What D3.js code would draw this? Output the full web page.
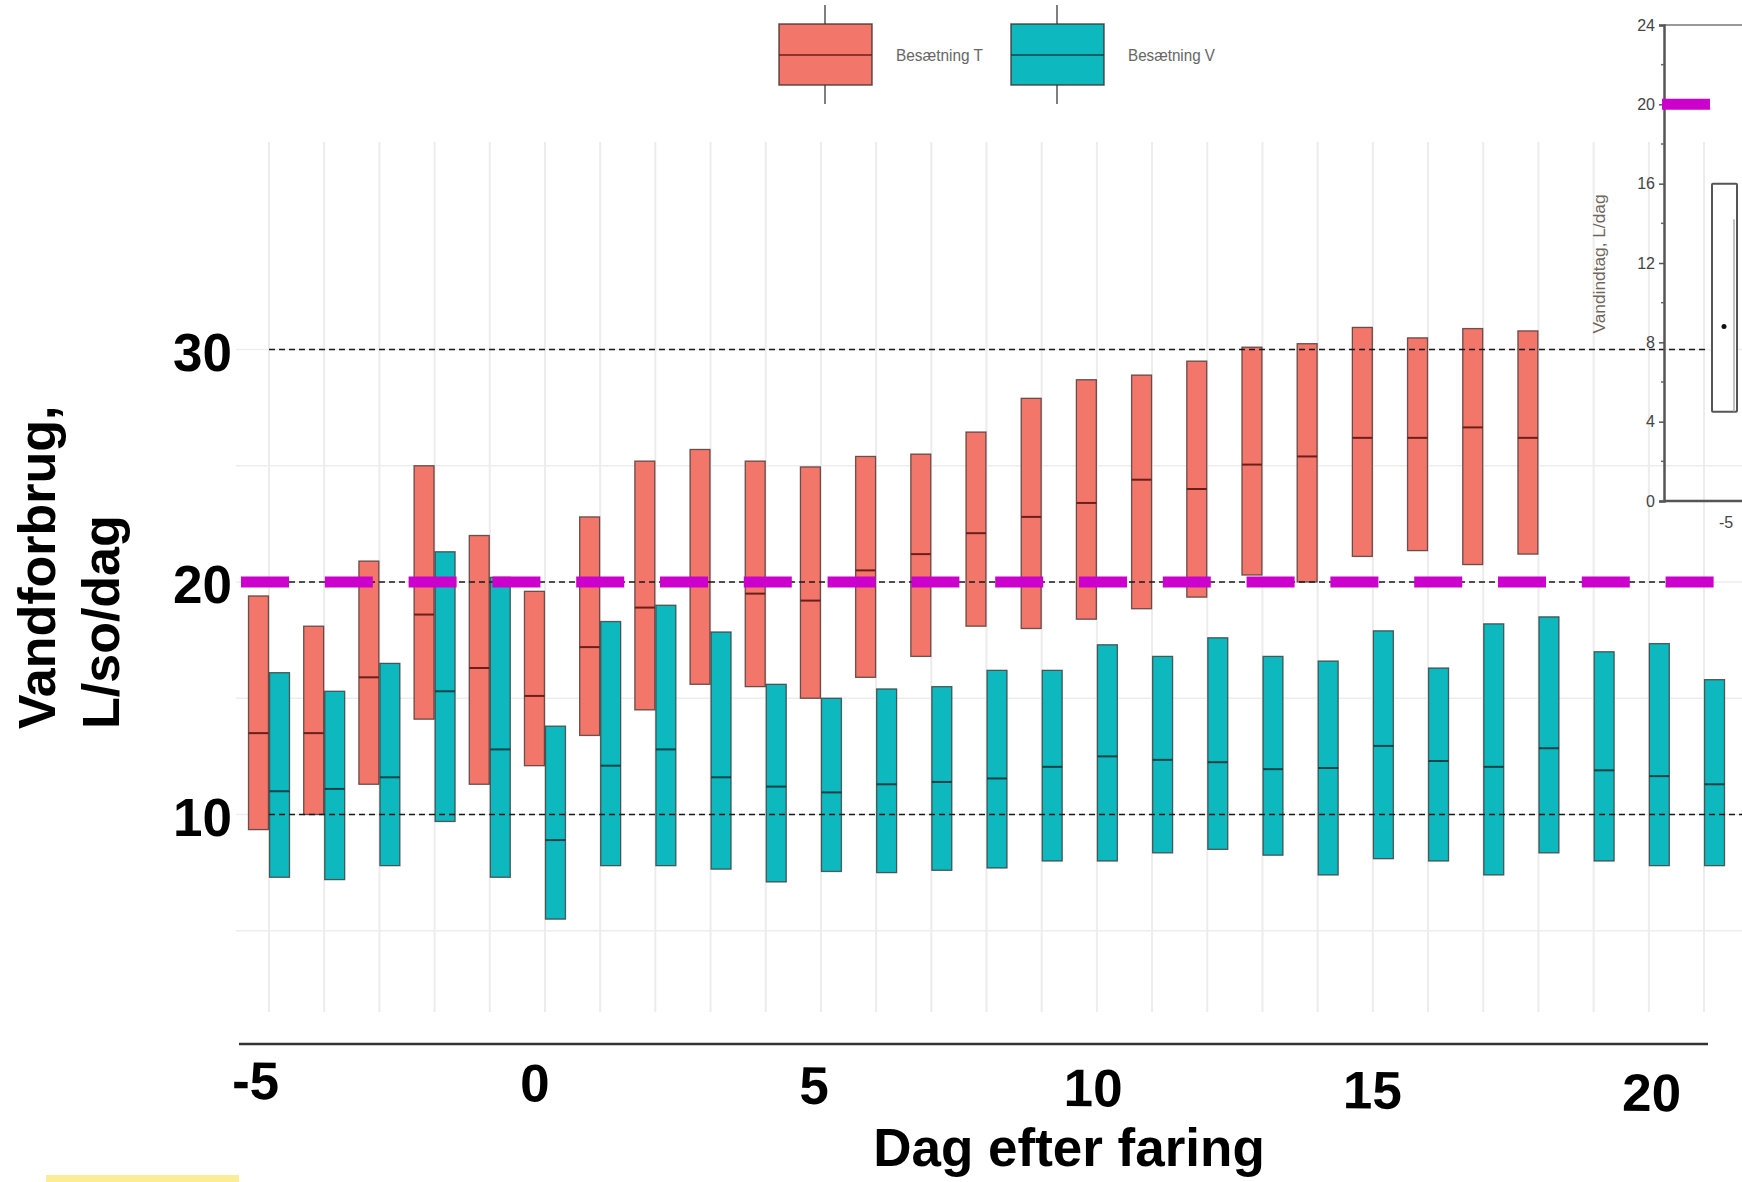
<!DOCTYPE html>
<html>
<head>
<meta charset="utf-8">
<script src="https://cdn.jsdelivr.net/npm/d3@7"></script>
<style>
  html, body { margin: 0; padding: 0; background: #ffffff; }
  svg { display: block; }
  text { font-family: "Liberation Sans", Arial, Helvetica, sans-serif; }
</style>
</head>
<body>
<svg id="chart" width="1742" height="1182"></svg>
<script>
// ---------------- DATA ----------------
const days = [-5,-4,-3,-2,-1,0,1,2,3,4,5,6,7,8,9,10,11,12,13,14,15,16,17,18,19,20,21];
const seriesNames = ["T", "V"];
const legendLabels = ["Besætning T", "Besætning V"];

// Besætning T (days -5 .. 18): box low (Q1), median, high (Q3)
const tDays = [-5,-4,-3,-2,-1,0,1,2,3,4,5,6,7,8,9,10,11,12,13,14,15,16,17,18];
const tLow  = [9.35,10.0,11.3,14.1,11.3,12.1,13.4,14.5,15.6,15.5,15.0,15.9,16.8,18.1,18.0,18.4,18.85,19.35,20.3,20.0,21.1,21.35,20.75,21.2];
const tMed  = [13.5,13.5,15.9,18.6,16.3,15.1,17.2,18.9,20.0,19.5,19.2,20.5,21.2,22.1,22.8,23.4,24.4,24.0,25.05,25.4,26.2,26.2,26.65,26.2];
const tHigh = [19.4,18.1,20.9,25.0,22.0,19.6,22.8,25.2,25.7,25.2,24.95,25.4,25.5,26.45,27.9,28.7,28.9,29.5,30.1,30.25,30.95,30.5,30.9,30.8];

// Besætning V (days -5 .. 21)
const vDays = days;
const vLow  = [7.3,7.2,7.8,9.7,7.3,5.5,7.8,7.8,7.65,7.1,7.55,7.5,7.6,7.7,8.0,8.0,8.35,8.5,8.25,7.4,8.1,8.0,7.4,8.35,8.0,7.8,7.8];
const vMed  = [11.0,11.1,11.6,15.3,12.8,8.9,12.1,12.8,11.6,11.2,10.95,11.3,11.4,11.55,12.05,12.5,12.35,12.25,11.95,12.0,12.95,12.3,12.05,12.85,11.9,11.65,11.3];
const vHigh = [16.1,15.3,16.5,21.3,20.2,13.8,18.3,19.0,17.85,15.6,15.0,15.4,15.5,16.2,16.2,17.3,16.8,17.6,16.8,16.6,17.9,16.3,18.2,18.5,17.0,17.35,15.8];

const yTicks = [10, 20, 30];
const gridValues = [5, 10, 15, 20, 25, 30];
const refLines = [30, 20, 10];
const targetValue = 20;
const xTickLabels = [-5, 0, 5, 10, 15, 20];
const yTitleLines = ["Vandforbrug,", "L/so/dag"];
const xTitle = "Dag efter faring";

// inset
const insetTicks = [0, 4, 8, 12, 16, 20, 24];
const insetMinor = [2, 6, 10, 14, 18, 22];
const insetBox = { low: 4.5, high: 16, point: 8.8, inner: 14.2 };
const insetXLabel = "-5";
const insetTitle = "Vandindtag, L/dag";
const insetTarget = 20;

// ---------------- SCALES ----------------
const svg = d3.select("#chart");
const x = d3.scaleLinear().domain([-5, 21]).range([269, 1704]);
const y = d3.scaleLinear().domain([10, 30]).range([814.5, 349.5]);
const dodge = d3.scaleBand().domain(seriesNames).range([-20.5, 20.5]).paddingInner(0.05);
const colors = { T: "#F3766B", V: "#0DB9BF" };

const tData = tDays.map((d, i) => ({ s: "T", day: d, lo: tLow[i], med: tMed[i], hi: tHigh[i] }));
const vData = vDays.map((d, i) => ({ s: "V", day: d, lo: vLow[i], med: vMed[i], hi: vHigh[i] }));
const allBoxes = tData.concat(vData);

// ---------------- GRID ----------------
const grid = svg.append("g");
grid.selectAll("line.v").data(days).join("line")
  .attr("x1", d => x(d)).attr("x2", d => x(d))
  .attr("y1", 142).attr("y2", 1012)
  .attr("stroke", "#ececec").attr("stroke-width", 2);
grid.selectAll("line.h").data(gridValues).join("line")
  .attr("x1", 236).attr("x2", 1742)
  .attr("y1", d => y(d)).attr("y2", d => y(d))
  .attr("stroke", "#ededed").attr("stroke-width", 1.5);

// ---------------- BOXES ----------------
const boxes = svg.append("g");
const bw = dodge.bandwidth();
boxes.selectAll("rect").data(allBoxes).join("rect")
  .attr("x", d => x(d.day) + dodge(d.s))
  .attr("width", bw)
  .attr("y", d => y(d.hi))
  .attr("height", d => y(d.lo) - y(d.hi))
  .attr("fill", d => colors[d.s])
  .attr("stroke", "#3a2c2b").attr("stroke-opacity", 0.75).attr("stroke-width", 1.3);
boxes.selectAll("line").data(allBoxes).join("line")
  .attr("x1", d => x(d.day) + dodge(d.s))
  .attr("x2", d => x(d.day) + dodge(d.s) + bw)
  .attr("y1", d => y(d.med)).attr("y2", d => y(d.med))
  .attr("stroke", d => d.s === "T" ? "#6b1f1a" : "#0b4448")
  .attr("stroke-width", 2);

// ---------------- REFERENCE DASHED LINES ----------------
const refEnd = { 30: 1705, 20: 1690, 10: 1742 };
svg.append("g").selectAll("line").data(refLines).join("line")
  .attr("x1", x(-5)).attr("x2", d => refEnd[d])
  .attr("y1", d => y(d)).attr("y2", d => y(d))
  .attr("stroke", "#1a1a1a").attr("stroke-width", 1.5)
  .attr("stroke-dasharray", "6,4");

// magenta target dashes
svg.append("line")
  .attr("x1", 241).attr("x2", 1714)
  .attr("y1", y(targetValue)).attr("y2", y(targetValue))
  .attr("stroke", "#cc00cc").attr("stroke-width", 11)
  .attr("stroke-dasharray", "48,35.8");

// ---------------- Y AXIS LABELS ----------------
svg.append("g").selectAll("text").data(yTicks).join("text")
  .attr("x", 232).attr("y", d => y(d) + 21)
  .attr("text-anchor", "end")
  .attr("font-size", 53).attr("font-weight", "bold").attr("fill", "#000")
  .text(d => d);

const yTitle = svg.append("text")
  .attr("transform", "translate(55,729) rotate(-90)")
  .attr("text-anchor", "start")
  .attr("font-size", 52).attr("font-weight", "bold").attr("fill", "#000");
yTitle.selectAll("tspan").data(yTitleLines).join("tspan")
  .attr("x", 0).attr("dy", (d, i) => i === 0 ? 0 : 64)
  .text(d => d);

// ---------------- X AXIS ----------------
svg.append("line")
  .attr("x1", 239).attr("x2", 1708).attr("y1", 1044).attr("y2", 1044)
  .attr("stroke", "#333").attr("stroke-width", 2.5);

const xLab = d3.scaleLinear().domain([-5, 20]).range([255, 1651]);
const xAxisG = svg.append("g")
  .attr("transform", "translate(0,1099) rotate(0.49,257,0)");
xAxisG.call(d3.axisBottom(xLab).tickValues(xTickLabels).tickSize(0).tickPadding(0).tickFormat(d3.format("d")));
xAxisG.select(".domain").remove();
xAxisG.selectAll(".tick text")
  .attr("y", 0).attr("dy", 0)
  .attr("font-family", "'Liberation Sans', Arial, sans-serif")
  .attr("font-size", 53).attr("font-weight", "bold").attr("fill", "#000")
  .text(d => d < 0 ? "-" + Math.abs(d) : d);

svg.append("text")
  .attr("x", 1069).attr("y", 1166)
  .attr("text-anchor", "middle")
  .attr("font-size", 53).attr("font-weight", "bold").attr("fill", "#000")
  .text(xTitle);

// ---------------- LEGEND ----------------
const legend = svg.append("g");
const legX = d3.scalePoint().domain(seriesNames).range([779, 1011]);
seriesNames.forEach((s, i) => {
  const g = legend.append("g").attr("transform", `translate(${legX(s)},0)`);
  g.append("line").attr("x1", 46).attr("x2", 46).attr("y1", 5).attr("y2", 104)
    .attr("stroke", "#555").attr("stroke-width", 1.5);
  g.append("rect").attr("x", 0).attr("y", 24).attr("width", 93).attr("height", 61)
    .attr("fill", colors[s]).attr("stroke", "#3a2c2b").attr("stroke-opacity", 0.8).attr("stroke-width", 1.5);
  g.append("line").attr("x1", 0).attr("x2", 93).attr("y1", 55).attr("y2", 55)
    .attr("stroke", s === "T" ? "#6b1f1a" : "#0b4448").attr("stroke-width", 1.5);
  g.append("text").attr("x", 117).attr("y", 61)
    .attr("font-size", 17).attr("fill", "#666")
    .attr("textLength", 87).attr("lengthAdjust", "spacingAndGlyphs")
    .text(legendLabels[i]);
});

// ---------------- INSET ----------------
const yIn = d3.scaleLinear().domain([0, 24]).range([501, 25]);
const inset = svg.append("g");
inset.append("line").attr("x1", 1664).attr("x2", 1742).attr("y1", yIn(24)).attr("y2", yIn(24))
  .attr("stroke", "#777").attr("stroke-width", 1.5);
inset.append("line").attr("x1", 1664).attr("x2", 1742).attr("y1", yIn(0)).attr("y2", yIn(0))
  .attr("stroke", "#555").attr("stroke-width", 2.5);
const inAx = inset.append("g").attr("transform", "translate(1664,0)")
  .call(d3.axisLeft(yIn).tickValues(insetTicks).tickSize(5).tickPadding(4));
inAx.select(".domain").attr("stroke", "#555").attr("stroke-width", 2.5);
inAx.selectAll(".tick line").attr("stroke", "#555").attr("stroke-width", 1.5);
inAx.selectAll(".tick text").attr("font-size", 16).attr("fill", "#444")
  .attr("font-family", "'Liberation Sans', Arial, sans-serif");
inset.append("g").selectAll("line").data(insetMinor).join("line")
  .attr("x1", 1661).attr("x2", 1664).attr("y1", d => yIn(d)).attr("y2", d => yIn(d))
  .attr("stroke", "#666").attr("stroke-width", 1.5);

inset.append("rect").attr("x", 1712).attr("width", 25)
  .attr("y", yIn(insetBox.high)).attr("height", yIn(insetBox.low) - yIn(insetBox.high))
  .attr("fill", "#fff").attr("stroke", "#555").attr("stroke-width", 2).attr("rx", 1);
inset.append("line").attr("x1", 1734).attr("x2", 1734)
  .attr("y1", yIn(insetBox.inner)).attr("y2", yIn(insetBox.low))
  .attr("stroke", "#999").attr("stroke-width", 1.2);
inset.append("circle").attr("cx", 1724).attr("cy", yIn(insetBox.point)).attr("r", 2.5).attr("fill", "#111");
inset.append("text").attr("x", 1726).attr("y", 528).attr("text-anchor", "middle")
  .attr("font-size", 16).attr("fill", "#444").text(insetXLabel);
inset.append("text")
  .attr("transform", "translate(1605,264) rotate(-90)")
  .attr("text-anchor", "middle")
  .attr("font-size", 16).attr("fill", "#6e655c")
  .attr("textLength", 139).attr("lengthAdjust", "spacingAndGlyphs")
  .text(insetTitle);
inset.append("line")
  .attr("x1", 1662).attr("x2", 1710).attr("y1", yIn(insetTarget)).attr("y2", yIn(insetTarget))
  .attr("stroke", "#cc00cc").attr("stroke-width", 11);

// ---------------- YELLOW NOTE STRIP ----------------
svg.append("rect").attr("x", 46).attr("y", 1175).attr("width", 193).attr("height", 7)
  .attr("fill", "#fdec97");
</script>
</body>
</html>
